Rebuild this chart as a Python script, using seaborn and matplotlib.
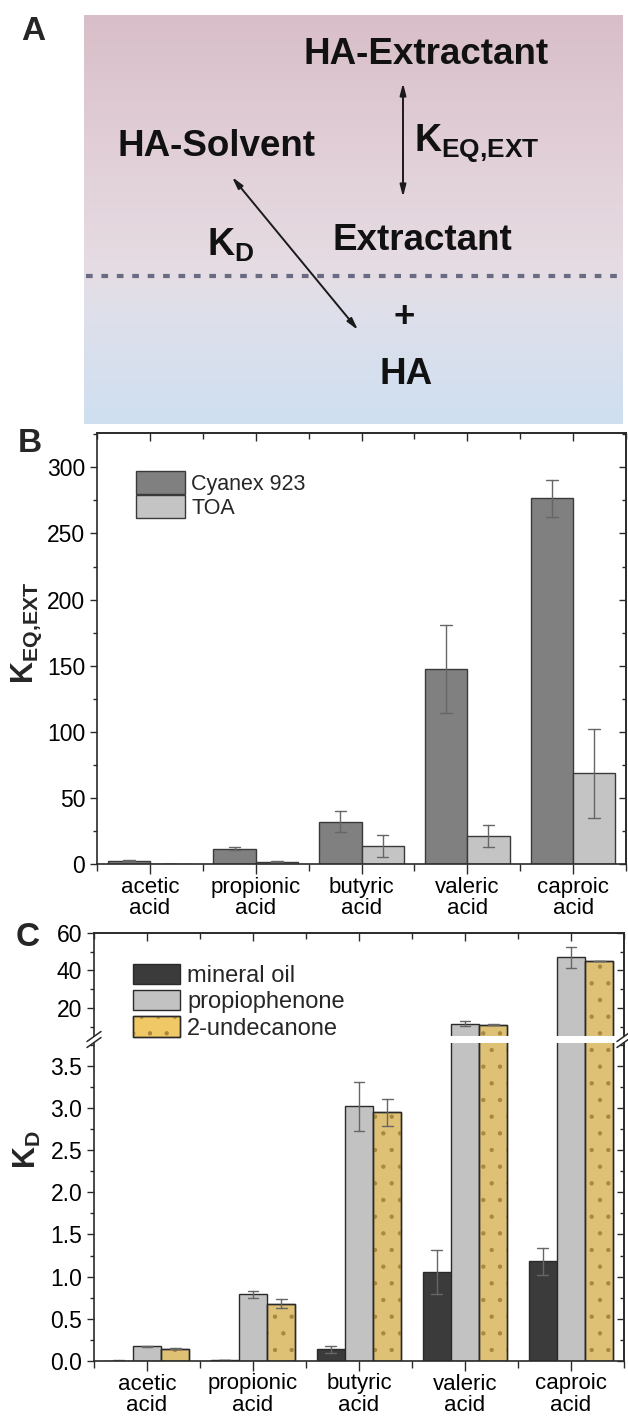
import numpy as np
import pandas as pd
import matplotlib
matplotlib.use("Agg")
import matplotlib.pyplot as plt
import seaborn as sns
from matplotlib.colors import LinearSegmentedColormap
from matplotlib.patches import Patch, Rectangle
from matplotlib.ticker import MultipleLocator, FixedLocator
from matplotlib.legend_handler import HandlerPatch

# ---------------- data ----------------
acids = ["acetic\nacid", "propionic\nacid", "butyric\nacid", "valeric\nacid", "caproic\nacid"]

ext_series = ["Cyanex 923", "TOA"]
cyanex_k = [2.5, 11.5, 32.0, 147.5, 276.5]
cyanex_err = [0.4, 1.0, 8.0, 33.0, 14.0]
toa_k = [0.3, 1.8, 13.6, 21.2, 68.5]
toa_err = [0.0, 0.3, 8.0, 8.0, 33.5]

solv_series = ["mineral oil", "propiophenone", "2-undecanone"]
mineral_kd = [0.005, 0.01, 0.14, 1.06, 1.18]
mineral_err = [0.002, 0.003, 0.04, 0.26, 0.16]
propio_kd = [0.174, 0.79, 3.02, 11.6, 47.0]
propio_err = [0.005, 0.04, 0.29, 1.3, 5.7]
undec_kd = [0.147, 0.68, 2.95, 11.0, 44.8]
undec_err = [0.005, 0.05, 0.16, 0.3, 0.0]

ext_colors = ["#808080", "#c4c4c4"]
solv_colors = ["#3b3b3b", "#c2c2c2", "#f0c865"]
DOT_COLOR = "#a8873f"


def long_df(names, vals, errs):
    rows = []
    for s, v, e in zip(names, vals, errs):
        for a, vi, ei in zip(acids, v, e):
            rows.append((a, s, vi - ei))
            rows.append((a, s, vi + ei))
    return pd.DataFrame(rows, columns=["acid", "series", "value"])


df_ext = long_df(ext_series, [cyanex_k, toa_k], [cyanex_err, toa_err])
df_kd = long_df(solv_series, [mineral_kd, propio_kd, undec_kd],
                [mineral_err, propio_err, undec_err])

# ---------------- style ----------------
sns.set_style("ticks")
plt.rcParams["font.family"] = ["Liberation Sans", "DejaVu Sans"]
plt.rcParams["mathtext.fontset"] = "custom"
plt.rcParams["mathtext.rm"] = "Liberation Sans"
plt.rcParams["mathtext.bf"] = "Liberation Sans:bold"
plt.rcParams["mathtext.it"] = "Liberation Sans:italic"
plt.rcParams["hatch.linewidth"] = 0.7

W, H = 628, 1418
fig = plt.figure(figsize=(W / 100, H / 100), dpi=100)


def rect(x0, y0, x1, y1):
    return [x0 / W, 1 - y1 / H, (x1 - x0) / W, (y1 - y0) / H]


SPINE = "#2a2a2a"
TICKFS = 16.5
XLABFS = 16

# ---------------- panel A ----------------
axA = fig.add_axes(rect(84, 15, 623, 424))
axA.set_xlim(84, 623)
axA.set_ylim(424, 15)
axA.axis("off")
cmap = LinearSegmentedColormap.from_list(
    "bg", [(0.0, "#d8bec8"), (0.35, "#e2d0d8"), (0.62, "#e6dce3"),
           (0.72, "#dfe0ea"), (1.0, "#cfdff1")])
axA.imshow(np.linspace(0, 1, 256).reshape(-1, 1), extent=(84, 623, 424, 15),
           aspect="auto", cmap=cmap, zorder=0)
axA.plot([86, 623], [276, 276], color="#6a6a82", lw=3.0,
         linestyle=(0, (1.6, 2.1)), solid_capstyle="butt",
         dash_capstyle="butt", zorder=1)
tk = dict(fontsize=26.5, fontweight="bold", color="#111111", ha="center", va="center")
axA.text(426, 55, "HA-Extractant", **tk)
axA.text(216, 147, "HA-Solvent", **tk)
axA.text(422, 240, "Extractant", **tk)
axA.text(404, 317, "+", **tk)
axA.text(406, 375, "HA", **tk)
axA.text(414, 143, r"$\mathbf{K}_{\mathbf{EQ{,}EXT}}$", fontsize=27, ha="left",
         va="center", color="#111111")
axA.text(207, 245, r"$\mathbf{K}_{\mathbf{D}}$", fontsize=27, ha="left",
         va="center", color="#111111")
arr = dict(arrowstyle="<|-|>,head_length=0.7,head_width=0.18", lw=1.4,
           color="#1a1a1a", shrinkA=0, shrinkB=0)
axA.annotate("", xy=(403, 83), xytext=(403, 197), arrowprops=arr)
axA.annotate("", xy=(232, 177), xytext=(358, 330), arrowprops=arr)


def style_axis(ax):
    for s in ax.spines.values():
        s.set_color(SPINE)
        s.set_linewidth(1.2)
    ax.tick_params(axis="both", which="both", colors=SPINE, labelcolor="black",
                   labelsize=TICKFS, width=1.0)
    ax.tick_params(axis="x", labelsize=XLABFS)
    ax.tick_params(axis="y", which="major", direction="out", length=5)
    ax.tick_params(axis="y", which="minor", direction="out", length=3)


def add_right_ticks(ax, major, minor):
    sec = ax.secondary_yaxis("right")
    sec.set_yticks(major)
    sec.yaxis.set_minor_locator(FixedLocator(minor))
    sec.tick_params(axis="y", which="major", direction="in", length=5,
                    labelright=False, color=SPINE, width=1.0)
    sec.tick_params(axis="y", which="minor", direction="in", length=3,
                    color=SPINE, width=1.0)
    sec.spines["right"].set_color(SPINE)
    sec.spines["right"].set_linewidth(1.2)


def add_top_ticks(ax):
    sec = ax.secondary_xaxis("top")
    sec.set_xticks(range(len(acids)))
    sec.xaxis.set_minor_locator(FixedLocator(np.arange(-0.5, len(acids), 1.0)))
    sec.tick_params(axis="x", which="major", direction="in", length=6,
                    labeltop=False, color=SPINE, width=1.0)
    sec.tick_params(axis="x", which="minor", direction="in", length=4,
                    color=SPINE, width=1.0)
    sec.spines["top"].set_color(SPINE)
    sec.spines["top"].set_linewidth(1.2)


def bottom_ticks(ax):
    ax.xaxis.set_minor_locator(FixedLocator(np.arange(-0.5, len(acids), 1.0)))
    ax.tick_params(axis="x", which="major", direction="out", length=7, pad=2)
    ax.tick_params(axis="x", which="minor", direction="out", length=5)
    for lab in ax.get_xticklabels():
        lab.set_linespacing(1.05)


def minmax(x):
    return (x.min(), x.max())


# ---------------- panel B ----------------
axB = fig.add_axes(rect(97, 433, 626, 864))
sns.barplot(data=df_ext, x="acid", y="value", hue="series", order=acids,
            hue_order=ext_series, palette=ext_colors, errorbar=minmax,
            width=0.8, gap=0, capsize=0.22, edgecolor="#3a3a3a", linewidth=1.0,
            err_kws={"color": "#666666", "linewidth": 1.0}, legend=False, ax=axB)
axB.set_xlim(-0.5, 4.5)
axB.set_ylim(0, 326)
axB.yaxis.set_major_locator(MultipleLocator(50))
axB.yaxis.set_minor_locator(MultipleLocator(25))
axB.set_xlabel("")
axB.set_ylabel("")
style_axis(axB)
bottom_ticks(axB)
add_right_ticks(axB, np.arange(0, 326, 50), np.arange(25, 326, 50))
add_top_ticks(axB)
hB = [Patch(facecolor=c, edgecolor="#3a3a3a", linewidth=1.0) for c in ext_colors]
axB.legend(hB, ext_series, loc="upper left", bbox_to_anchor=(0.074, 0.912),
           frameon=False, fontsize=15.5, borderpad=0, borderaxespad=0,
           handlelength=2.25, handleheight=1.25, labelspacing=0.02,
           handletextpad=0.3)

# ---------------- panel C (broken axis) ----------------
axCu = fig.add_axes(rect(94, 933, 624, 1036))
axCl = fig.add_axes(rect(94, 1043, 624, 1361))
for ax in (axCu, axCl):
    sns.barplot(data=df_kd, x="acid", y="value", hue="series", order=acids,
                hue_order=solv_series, palette=solv_colors, errorbar=minmax,
                width=0.8, gap=0, capsize=0.3, edgecolor="#2a2a2a",
                linewidth=1.0, err_kws={"color": "#666666", "linewidth": 1.0},
                legend=False, ax=ax)
    ax.set_xlim(-0.5, 4.5)
    ax.set_xlabel("")
    ax.set_ylabel("")
    n = len(acids)
    for i, p in enumerate(list(ax.patches[:3 * n])):
        if i // n == 2:
            ov = Rectangle(p.get_xy(), p.get_width(), p.get_height(),
                           fill=False, edgecolor=DOT_COLOR, linewidth=0,
                           hatch=".", zorder=p.get_zorder() + 0.01)
            ax.add_patch(ov)
            ov2 = Rectangle(p.get_xy(), p.get_width(), p.get_height(),
                            fill=False, edgecolor="#2a2a2a", linewidth=1.0,
                            zorder=p.get_zorder() + 0.02)
            ax.add_patch(ov2)
    style_axis(ax)

axCu.set_ylim(5, 60)
axCu.yaxis.set_major_locator(FixedLocator([20, 40, 60]))
axCu.yaxis.set_minor_locator(FixedLocator([10, 30, 50]))
axCu.spines["bottom"].set_visible(False)
axCu.tick_params(axis="x", which="both", bottom=False, labelbottom=False)
add_top_ticks(axCu)
add_right_ticks(axCu, [20, 40, 60], [10, 30, 50])

axCl.set_ylim(0, 3.77)
axCl.yaxis.set_major_locator(MultipleLocator(0.5))
axCl.yaxis.set_minor_locator(MultipleLocator(0.25))
axCl.yaxis.set_major_formatter(matplotlib.ticker.FormatStrFormatter("%.1f"))
axCl.spines["top"].set_visible(False)
bottom_ticks(axCl)
add_right_ticks(axCl, np.arange(0, 3.8, 0.5), np.arange(0.25, 3.8, 0.5))

# break marks
for xf in (94, 624):
    for dy in (-3, 3):
        yc = 1039.5 + dy
        fig.add_artist(plt.Line2D([(xf - 7) / W, (xf + 7) / W],
                                  [1 - (yc + 5) / H, 1 - (yc - 5) / H],
                                  color=SPINE, lw=1.1))


class DottedHandler(HandlerPatch):
    def create_artists(self, legend, orig_handle, xdescent, ydescent, width,
                       height, fontsize, trans):
        base = Rectangle((-xdescent, -ydescent), width, height,
                         facecolor=orig_handle.get_facecolor(),
                         edgecolor="#2a2a2a", linewidth=1.0, transform=trans)
        dots = Rectangle((-xdescent, -ydescent), width, height, fill=False,
                         edgecolor=DOT_COLOR, linewidth=0, hatch=".",
                         transform=trans)
        edge = Rectangle((-xdescent, -ydescent), width, height, fill=False,
                         edgecolor="#2a2a2a", linewidth=1.0, transform=trans)
        return [base, dots, edge]


hC = [Patch(facecolor=c, edgecolor="#2a2a2a", linewidth=1.0) for c in solv_colors]
fig.legend(hC, solv_series, loc="upper left",
           bbox_to_anchor=(133 / W, 1 - 964 / H), frameon=False, fontsize=17,
           borderpad=0, borderaxespad=0, handlelength=2.0, handleheight=0.95,
           labelspacing=0.12, handletextpad=0.3,
           handler_map={hC[2]: DottedHandler()})

# ---------------- panel letters & y labels ----------------
fig.text(33 / W, 1 - 31 / H, "A", fontsize=24, fontweight="bold",
         ha="center", va="center")
fig.text(30 / W, 1 - 443 / H, "B", fontsize=24, fontweight="bold",
         ha="center", va="center")
fig.text(28 / W, 1 - 937 / H, "C", fontsize=24, fontweight="bold",
         ha="center", va="center")
fig.text(27 / W, 1 - 633 / H, r"$\mathbf{K}_{\mathbf{EQ{,}EXT}}$", fontsize=22,
         rotation=90, ha="center", va="center")
fig.text(27 / W, 1 - 1150 / H, r"$\mathbf{K}_{\mathbf{D}}$", fontsize=22,
         rotation=90, ha="center", va="center")

fig.savefig("out.png", dpi=100)
